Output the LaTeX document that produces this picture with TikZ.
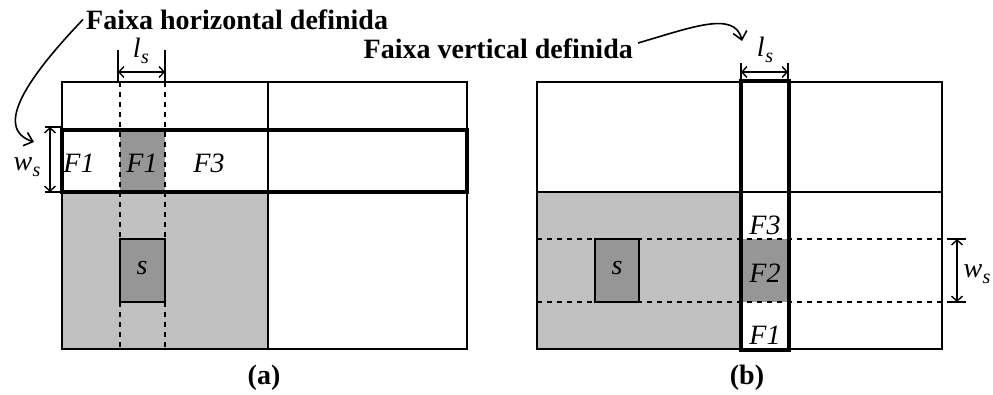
\documentclass[tikz,border=0pt]{standalone}
\usepackage{fontspec}
\setmainfont{Liberation Serif}
\usetikzlibrary{arrows.meta}
\definecolor{lgray}{RGB}{192,192,192}
\definecolor{dgray}{RGB}{150,150,150}
\newcommand{\dimsym}[2]{\textit{#1}\kern0.5pt\raisebox{-0.45ex}{\fontsize{20}{22}\selectfont\textit{#2}}}
\begin{document}
\begin{tikzpicture}[x=1pt,y=-1pt,
  thin line/.style={line width=1.4pt},
  thick strip/.style={line width=4.6pt},
  dash line/.style={line width=1.2pt,dash pattern=on 5pt off 5pt},
  dimarrow/.style={line width=1.4pt,{Straight Barb[length=5pt,width=11pt]}-{Straight Barb[length=5pt,width=11pt]}},
  tickline/.style={line width=1.1pt},
  lbl/.style={font=\fontsize{28}{32}\selectfont\itshape,inner sep=0pt},
  boldlbl/.style={font=\fontsize{28}{32}\selectfont\bfseries,inner sep=0pt},
  pointer/.style={line width=1.6pt,-{Straight Barb[length=8pt,width=14pt]}}]
\useasboundingbox (0,0) rectangle (993,395);
% ================= (a)
\fill[lgray] (62,192) rectangle (268,349);
\fill[dgray] (120,130) rectangle (165,192);
\draw[thin line,fill=dgray] (120,239) rectangle (165,302);
\draw[thin line] (62,82) rectangle (467,349);
\draw[thin line] (268,82) -- (268,349);
\draw[dash line] (120,82) -- (120,349);
\draw[dash line] (165,82) -- (165,349);
\draw[thick strip] (62,130) rectangle (467,192);
\node[lbl] (a1) at (79,163) {F1};
\node[lbl] (a2) at (142,163) {F1};
\node[lbl] (a3) at (209,163) {F3};
\node[lbl] (as) at (142,268) {s};
% ls dimension (a)
\coordinate (aL1) at (118,50); \coordinate (aL1b) at (118,82);
\coordinate (aL2) at (165,50); \coordinate (aL2b) at (165,82);
\draw[tickline] (aL1) -- (aL1b);
\draw[tickline] (aL2) -- (aL2b);
\coordinate (aLa) at (118,72); \coordinate (aLb) at (165,72);
\draw[dimarrow] (aLa) -- (aLb);
\node[lbl,font=\fontsize{28}{32}\selectfont] (als) at (141,51) {\dimsym{l}{s}};
% ws dimension (a)
\coordinate (aW1) at (45,127); \coordinate (aW1b) at (62,127);
\coordinate (aW2) at (45,192); \coordinate (aW2b) at (62,192);
\draw[tickline] (aW1) -- (aW1b);
\draw[tickline] (aW2) -- (aW2b);
\coordinate (aWa) at (50,127); \coordinate (aWb) at (50,192);
\draw[dimarrow] (aWa) -- (aWb);
\node[lbl,font=\fontsize{28}{32}\selectfont] (aws) at (27,167) {\dimsym{w}{s}};
% label (a)
\node[boldlbl,anchor=west] (hlab) at (86,19.5) {Faixa horizontal definida};
\coordinate (htip) at (34,142);
\draw[pointer] (hlab.west) ++(-3,0) .. controls (30,75) and (-8,128) .. (htip);
\node[boldlbl] (capa) at (264,378) {(a)};
% ================= (b)
\fill[lgray] (537,192) rectangle (741,349);
\fill[dgray] (741,239) rectangle (789,302);
\draw[thin line,fill=dgray] (595,239) rectangle (639,302);
\draw[thin line] (537,82) rectangle (942,349);
\draw[thin line] (537,192) -- (942,192);
\draw[dash line] (537,239) -- (942,239);
\draw[dash line] (537,302) -- (942,302);
\draw[thick strip] (741,81) rectangle (789,350);
\node[lbl] (b3) at (765,225) {F3};
\node[lbl] (b2) at (765,273) {F2};
\node[lbl] (b1) at (765,335) {F1};
\node[lbl] (bs) at (617,268) {s};
% ls dimension (b)
\coordinate (bL1) at (741,63); \coordinate (bL1b) at (741,82);
\coordinate (bL2) at (788,63); \coordinate (bL2b) at (788,82);
\draw[tickline] (bL1) -- (bL1b);
\draw[tickline] (bL2) -- (bL2b);
\coordinate (bLa) at (741,72); \coordinate (bLb) at (788,72);
\draw[dimarrow] (bLa) -- (bLb);
\node[lbl,font=\fontsize{28}{32}\selectfont] (bls) at (765,50) {\dimsym{l}{s}};
% ws dimension (b)
\coordinate (bW1) at (947,239); \coordinate (bW1b) at (966,239);
\coordinate (bW2) at (947,302); \coordinate (bW2b) at (966,302);
\draw[tickline] (bW1) -- (bW1b);
\draw[tickline] (bW2) -- (bW2b);
\coordinate (bWa) at (957,239); \coordinate (bWb) at (957,302);
\draw[dimarrow] (bWa) -- (bWb);
\node[lbl,font=\fontsize{28}{32}\selectfont] (bws) at (977,274) {\dimsym{w}{s}};
% label (b)
\node[boldlbl,anchor=east] (vlab) at (633,49) {Faixa vertical definida};
\coordinate (vtip) at (742,41);
\draw[pointer] (vlab.east) ++(5,-6) .. controls (690,28) and (735,10) .. (vtip);
\node[boldlbl] (capb) at (747,378) {(b)};
\end{tikzpicture}
\end{document}
